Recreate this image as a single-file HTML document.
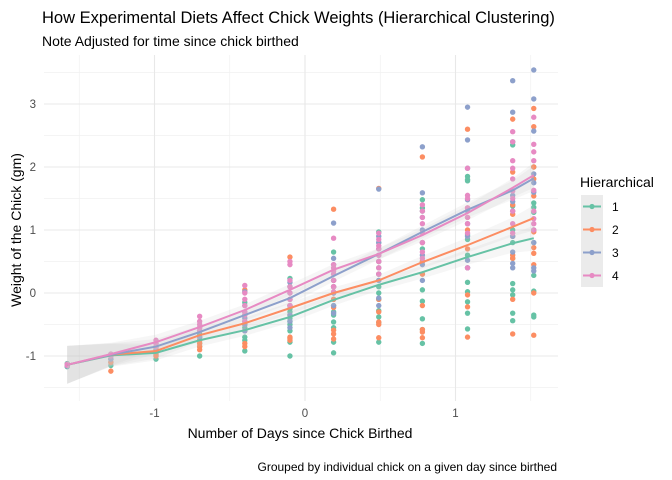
<!DOCTYPE html>
<html><head><meta charset="utf-8"><style>
body{margin:0;background:#fff;font-family:"Liberation Sans",Arial,sans-serif;}
svg{display:block}
</style></head><body>
<svg id="chart" width="672" height="480" xmlns="http://www.w3.org/2000/svg">
<text x="42" y="23" font-size="16.5" fill="#000">How Experimental Diets Affect Chick Weights (Hierarchical Clustering)</text>
<text x="42" y="46" font-size="14" fill="#000">Note Adjusted for time since chick birthed</text>
<g id="grid"></g>
<g id="points"></g>
<g id="ribbons"></g>
<g id="lines"></g>
<g id="axes"></g>
<text transform="translate(21,230) rotate(-90)" text-anchor="middle" font-size="14" fill="#000">Weight of the Chick (gm)</text>
<text x="300" y="438" text-anchor="middle" font-size="14" fill="#000">Number of Days since Chick Birthed</text>
<text x="557" y="471" text-anchor="end" font-size="12" fill="#000">Grouped by individual chick on a given day since birthed</text>
<g id="legend">
<text x="580" y="187" font-size="14" fill="#000">Hierarchical</text>
</g>
</svg>
<script>
const xTicks=[-1,0,1];
const yTicks=[-1,0,1,2,3];
const xMinor=[-1.5,-0.5,0.5,1.5];
const yMinor=[-1.5,-0.5,0.5,1.5,2.5,3.5];
const xVals=[-1.58,-1.29,-0.99,-0.70,-0.40,-0.10,0.19,0.49,0.78,1.08,1.38,1.52];
const clusters=["1","2","3","4"];
const colors=["#66C2A5","#FC8D62","#8DA0CB","#E78AC3"];
const fit1=[-1.14,-0.99,-0.95,-0.75,-0.59,-0.38,-0.11,0.13,0.33,0.57,0.79,0.87];
const fit2=[-1.14,-0.98,-0.92,-0.67,-0.48,-0.24,0.0,0.2,0.49,0.76,1.05,1.19];
const fit3=[-1.14,-0.98,-0.85,-0.62,-0.35,-0.08,0.27,0.62,0.97,1.32,1.63,1.82];
const fit4=[-1.14,-0.97,-0.78,-0.54,-0.27,0.05,0.37,0.62,0.92,1.27,1.67,1.87];
const se=[0.3,0.18,0.12,0.1,0.09,0.09,0.09,0.09,0.1,0.12,0.15,0.2];
const pts1=[[-1.15,-1.13,-1.17,-1.12],[-1.0,-1.1,-1.05,-1.15,-0.97],[-0.95,-1.05,-0.9,-0.98,-1.0,-0.87],[-1.0,-0.75,-0.65,-0.8,-0.7,-0.85,-0.6],[-0.92,-0.15,-0.6,-0.45,-0.7,-0.55,-0.35,-0.75,-0.5],[0.23,-1.0,-0.78,-0.4,-0.2,-0.3,-0.5,-0.45,-0.6,0.1,-0.25],[0.65,-0.46,-0.78,-0.95,-0.3,0.1,-0.1,-0.2,0.0,-0.35,0.2,-0.55],[0.97,-0.28,-0.38,-0.47,-0.78,0.5,0.3,0.1,0.0,-0.1,0.2,0.4,0.8],[1.48,0.05,-0.41,-0.58,-0.8,0.7,1.35,1.3,0.5,0.3,-0.13],[1.8,1.78,0.92,0.17,0.02,-0.14,-0.32,-0.57,1.85,0.85,0.6,0.4],[2.4,2.35,1.38,0.15,0.05,-0.03,-0.32,-0.44,1.0,0.8,0.55],[2.0,1.43,1.36,1.28,0.28,0.03,-0.35,-0.38,1.0,0.8]];
const pts2=[[-1.15,-1.14],[-1.24,-1.1,-1.05],[-0.95,-0.9,-1.0],[-0.9,-0.8,-0.75,-0.85,-0.7],[-0.8,-0.85,0.05,-0.6,-0.5,-0.3],[0.57,-0.7,-0.75,-0.72,-0.2,-0.35,-0.1],[1.33,-0.23,-0.59,-0.65,-0.73,0.1,0.2,-0.1],[1.66,-0.46,-0.5,-0.71,-0.3,0.3,0.5,-0.1],[2.16,0.8,-0.58,-0.62,-0.71,0.3,0.5,-0.2],[2.6,1.35,0.7,-0.03,-0.22,-0.7,1.0,1.2],[2.76,1.92,1.25,0.9,0.55,-0.1,-0.65,1.4,0.6],[2.93,2.64,2.0,1.81,1.54,0.97,0.72,0.63,0.45,0.0,-0.67]];
const pts3=[[-1.15,-1.16],[-1.05,-1.0],[-0.92,-0.85,-0.8],[-0.6,-0.7,-0.55],[0.02,-0.5,-0.4,-0.3,-0.2,-0.6],[0.17,-0.55,-0.35,-0.1,0.0,-0.2,-0.45],[1.11,0.55,0.45,-0.2,-0.32,0.3,0.2,0.1,0.0],[1.65,0.6,0.3,-0.08,-0.2,0.8,0.9,0.5,0.7,0.2],[2.32,1.59,0.2,1.2,1.0,0.8,0.6,0.45],[2.95,2.43,1.98,1.48,0.52,0.4,1.3,1.1,0.9],[3.37,2.87,1.55,0.9,0.65,0.47,0.4,1.45,1.3],[3.54,3.08,2.57,1.89,0.8,0.4,0.35,1.75,1.6]];
const pts4=[[-1.15,-1.13],[-0.97,-1.0],[-0.8,-0.75,-0.85],[-0.37,-0.5,-0.55,-0.45,-0.6],[0.12,-0.3,-0.1,-0.2,-0.35,0.0,-0.45],[0.5,0.45,-0.1,0.1,0.0,-0.2,0.2],[0.87,0.45,0.3,0.02,0.4,0.2,0.1,0.35],[0.95,0.85,0.7,0.4,0.6,0.5,0.75,0.3],[1.4,1.3,1.1,0.8,0.55,0.95,1.2,0.65],[1.98,1.55,1.5,1.2,0.95,0.4,1.35,1.1],[2.56,2.4,2.1,1.98,1.81,1.62,1.3,1.1,0.95,1.5],[2.79,2.36,2.24,2.1,1.63,1.18,1.1,1.0,1.3]];
const pts=[pts1,pts2,pts3,pts4];
const fits=[fit1,fit2,fit3,fit4];
const NS="http://www.w3.org/2000/svg";
const X=v=>305+v*150.5, Y=v=>293-v*63;
const L=44,R=558,T=55,B=401;
function mk(t,a,p){const e=document.createElementNS(NS,t);for(const k in a)e.setAttribute(k,a[k]);p.appendChild(e);return e;}
const grid=document.getElementById('grid');
yMinor.forEach(v=>{const e=mk('line',{x1:L,x2:R,y1:Y(v),y2:Y(v),stroke:'#f0f0f0','stroke-width':0.7},grid);

});
xMinor.forEach(v=>{const e=mk('line',{x1:X(v),x2:X(v),y1:T,y2:B,stroke:'#f0f0f0','stroke-width':0.7},grid);

});
yTicks.forEach(v=>{const e=mk('line',{x1:L,x2:R,y1:Y(v),y2:Y(v),stroke:'#e8e8e8','stroke-width':1.1},grid);

});
xTicks.forEach(v=>{const e=mk('line',{x1:X(v),x2:X(v),y1:T,y2:B,stroke:'#e8e8e8','stroke-width':1.1},grid);

});
const axes=document.getElementById('axes');
yTicks.forEach(v=>{const t=mk('text',{x:36,y:Y(v)+4,'text-anchor':'end','font-size':11.5,fill:'#4d4d4d'},axes);t.textContent=v;

});
xTicks.forEach(v=>{const t=mk('text',{x:X(v),y:417,'text-anchor':'middle','font-size':11.5,fill:'#4d4d4d'},axes);t.textContent=v;

});
const pg=document.getElementById('points');
pts.forEach((cl,ci)=>cl.forEach((col,xi)=>col.forEach(v=>{const c=mk('circle',{cx:X(xVals[xi]),cy:Y(v),r:2.7,fill:colors[ci]},pg);

})));
const rg=document.getElementById('ribbons'),lg=document.getElementById('lines');
fits.forEach((f,ci)=>{
 let up=f.map((v,i)=>X(xVals[i])+','+Y(v+se[i])), lo=f.map((v,i)=>X(xVals[i])+','+Y(v-se[i])).reverse();
 const p=mk('polygon',{points:up.concat(lo).join(' '),fill:'rgba(200,200,200,0.17)'},rg);
 
 
 const l=mk('polyline',{points:f.map((v,i)=>X(xVals[i])+','+Y(v)).join(' '),fill:'none',stroke:colors[ci],'stroke-width':2},lg);
 
 
});
const leg=document.getElementById('legend');
clusters.forEach((c,i)=>{const y=195+i*23;
 const g=mk('g',{},leg);
 
 
 mk('rect',{x:581,y:y,width:22,height:23,fill:'#ebebeb'},g);
 mk('line',{x1:583,x2:601,y1:y+11.5,y2:y+11.5,stroke:colors[i],'stroke-width':2},g);
 mk('circle',{cx:592,cy:y+11.5,r:2.6,fill:colors[i]},g);
 const t=mk('text',{x:612,y:y+16,'font-size':12,fill:'#000'},g);t.textContent=c;
});
</script>
</body></html>
